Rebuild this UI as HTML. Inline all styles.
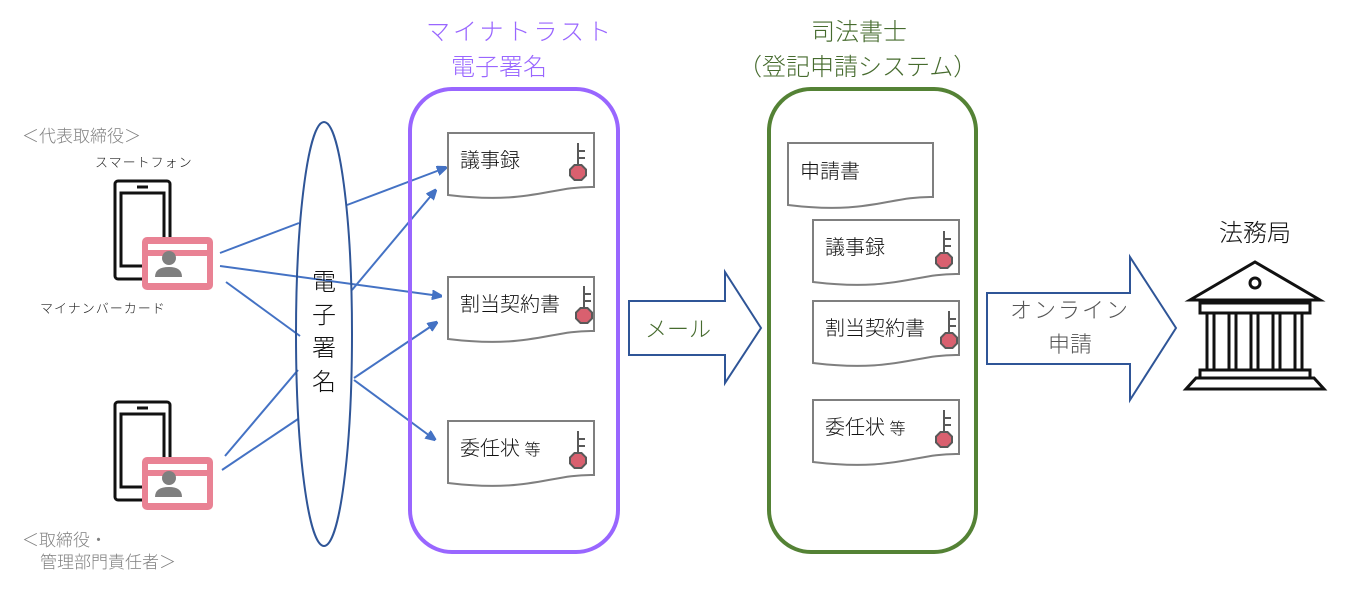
<!DOCTYPE html>
<html><head><meta charset="utf-8"><style>
html,body{margin:0;padding:0;background:#fff;}
svg{display:block;font-family:"Liberation Sans","Noto Sans CJK JP",sans-serif;font-weight:300;}
</style></head><body>
<svg width="1363" height="590" viewBox="0 0 1363 590" xmlns="http://www.w3.org/2000/svg">
<defs>
<marker id="ar" markerWidth="10" markerHeight="10" refX="8" refY="5" orient="auto" markerUnits="userSpaceOnUse"><path d="M0,0 L12,5 L0,10 Z" fill="#4472c4" transform="scale(1.3) translate(-2,-1.2)"/></marker>
<g id="key"><line x1="0" y1="0" x2="0" y2="22" stroke="#595959" stroke-width="2"/><line x1="0" y1="8" x2="7" y2="8" stroke="#595959" stroke-width="2"/><line x1="0" y1="15" x2="7" y2="15" stroke="#595959" stroke-width="2"/><polygon points="-3.5,22 3.5,22 8,26.5 8,32.5 3.5,37 -3.5,37 -8,32.5 -8,26.5" fill="#d9606f" stroke="#595959" stroke-width="2"/></g>
<g id="phone"><rect x="0" y="0" width="55" height="98" rx="3" fill="#fff" stroke="#111" stroke-width="3"/><rect x="6" y="12" width="43" height="73" fill="#fff" stroke="#111" stroke-width="3"/><line x1="22" y1="6" x2="33" y2="6" stroke="#111" stroke-width="3"/></g>
<g id="card"><rect x="0" y="0" width="71" height="53" rx="5" fill="#e98294"/><rect x="6" y="7" width="59" height="6" fill="#fff"/><rect x="6" y="19" width="59" height="27" fill="#fff"/><circle cx="27" cy="21" r="7" fill="#7f7f7f"/><path d="M13,40 Q13,30 27,30 Q40,30 40,40 Z" fill="#7f7f7f"/></g>
</defs>

<text x="426" y="40" font-size="24" fill="#9966ff" letter-spacing="3">マイナトラスト</text>
<text x="451" y="75" font-size="24" fill="#9966ff">電子署名</text>
<text x="811" y="40" font-size="24" fill="#466b2e">司法書士</text>
<text x="738" y="75" font-size="24" fill="#466b2e">（登記申請システム）</text>

<text x="22" y="142" font-size="17" fill="#808080">＜代表取締役＞</text>
<text x="95" y="167" font-size="13" fill="#222" letter-spacing="1">スマートフォン</text>
<text x="40" y="313" font-size="13" fill="#222" letter-spacing="1">マイナンバーカード</text>
<text x="22" y="546" font-size="17" fill="#808080">＜取締役・</text>
<text x="40" y="568" font-size="17" fill="#808080">管理部門責任者＞</text>

<use href="#phone" x="115" y="181"/>
<use href="#card" x="142" y="237"/>
<use href="#phone" x="115" y="402"/>
<use href="#card" x="142" y="457"/>

<g stroke="#4472c4" stroke-width="2" fill="none">
<line x1="220" y1="253" x2="299" y2="223"/>
<line x1="220" y1="266" x2="440" y2="296" marker-end="url(#ar)"/>
<line x1="226" y1="282" x2="300" y2="336"/>
<line x1="225" y1="456" x2="298" y2="370"/>
<line x1="222" y1="470" x2="298" y2="419"/>
<line x1="347" y1="205" x2="445" y2="168" marker-end="url(#ar)"/>
<line x1="352" y1="290" x2="435" y2="191" marker-end="url(#ar)"/>
<line x1="354" y1="378" x2="436" y2="323" marker-end="url(#ar)"/>
<line x1="354" y1="380" x2="434" y2="439" marker-end="url(#ar)"/>
</g>

<ellipse cx="324" cy="334" rx="28" ry="212" fill="none" stroke="#2f5597" stroke-width="2"/>
<g font-size="24" fill="#111" text-anchor="middle">
<text x="324" y="290">電</text><text x="324" y="323">子</text><text x="324" y="356">署</text><text x="324" y="390">名</text>
</g>

<rect x="410" y="89" width="208" height="463" rx="42" fill="none" stroke="#9966ff" stroke-width="4"/>
<rect x="769" y="89" width="207" height="463" rx="42" fill="none" stroke="#548235" stroke-width="4"/>

<g fill="#fff" stroke="#7f7f7f" stroke-width="2">
<path d="M448,133 H594 V187 C550,186 530,205 448,195 Z"/>
<path d="M448,277 H594 V331 C550,330 530,349 448,339 Z"/>
<path d="M448,421 H594 V475 C550,474 530,493 448,483 Z"/>
<path d="M788,143 H933 V197 C889,196 869,215 788,205 Z"/>
<path d="M813,220 H959 V274 C915,273 895,292 813,282 Z"/>
<path d="M813,301 H959 V355 C915,354 895,373 813,363 Z"/>
<path d="M813,400 H959 V454 C915,453 895,472 813,462 Z"/>
</g>
<g font-size="20" fill="#111">
<text x="460" y="167">議事録</text>
<text x="460" y="311">割当契約書</text>
<text x="460" y="455">委任状<tspan font-size="16"> 等</tspan></text>
<text x="800" y="178">申請書</text>
<text x="825" y="254">議事録</text>
<text x="825" y="335">割当契約書</text>
<text x="825" y="434">委任状<tspan font-size="16"> 等</tspan></text>
</g>
<use href="#key" x="578" y="143"/>
<use href="#key" x="584" y="286"/>
<use href="#key" x="578" y="431"/>
<use href="#key" x="944" y="231"/>
<use href="#key" x="949" y="311"/>
<use href="#key" x="944" y="410"/>

<path d="M629,301 H725 V272 L761,328 L725,383 V355 H629 Z" fill="#fff" stroke="#2f5597" stroke-width="2"/>
<text x="645" y="337" font-size="22" fill="#466b2e">メール</text>
<path d="M987,293 H1130 V257 L1176,328 L1130,400 V364 H987 Z" fill="#fff" stroke="#2f5597" stroke-width="2"/>
<text x="1070" y="318" font-size="22" fill="#555" text-anchor="middle" letter-spacing="2">オンライン</text>
<text x="1070" y="352" font-size="22" fill="#555" text-anchor="middle">申請</text>

<text x="1255" y="241" font-size="24" fill="#111" text-anchor="middle">法務局</text>
<g fill="none" stroke="#111" stroke-width="3">
<path d="M1190,300 L1255,262 L1320,300 Z"/>
<circle cx="1255" cy="283" r="5"/>
<rect x="1200" y="303" width="110" height="10"/>
<path d="M1207,313 V370 M1214,313 V370 M1229,313 V370 M1236,313 V370 M1251,313 V370 M1258,313 V370 M1273,313 V370 M1280,313 V370 M1295,313 V370 M1302,313 V370"/>
<rect x="1200" y="370" width="110" height="8"/>
<path d="M1196,378 H1314 L1324,389 H1186 Z"/>
</g>
</svg>
</body></html>
